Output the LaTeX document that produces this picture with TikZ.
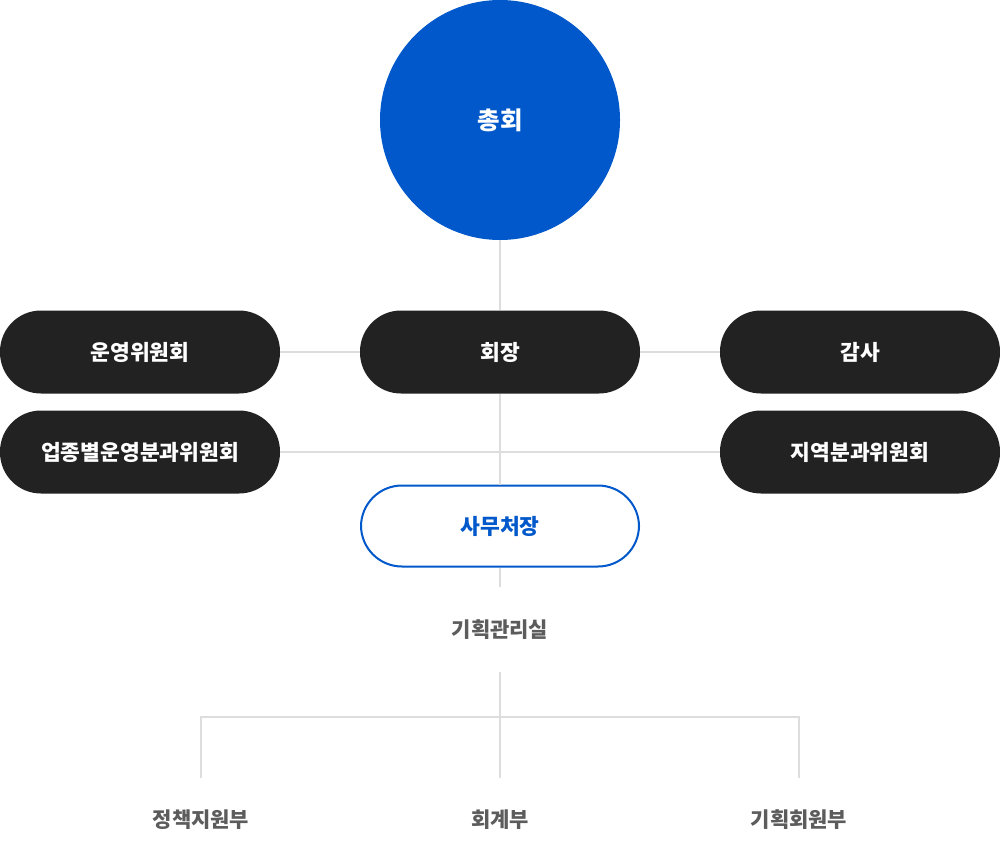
\documentclass[tikz,border=0pt]{standalone}
\usepackage{fontspec}
\newfontfamily\kr{Noto Sans CJK KR}
\definecolor{orgblue}{HTML}{0058CA}
\definecolor{orgdark}{HTML}{222222}
\definecolor{orgline}{HTML}{DDDDDD}
\definecolor{orggray}{HTML}{5C5C5C}
\tikzset{
rootcircle/.style={circle, fill=orgblue, minimum size=240pt, inner sep=0pt,
  text=white, font=\kr\bfseries\fontsize{24.5}{25}\selectfont},
darkpill/.style={rectangle, rounded corners=41pt, fill=orgdark, minimum width=280pt,
  minimum height=83pt, inner sep=0pt, text=white, font=\kr\bfseries\fontsize{21.5}{22}\selectfont},
linepill/.style={rectangle, rounded corners=41pt, draw=orgblue, line width=2pt, fill=white,
  minimum width=278pt, minimum height=81pt, inner sep=0pt, text=orgblue,
  font=\kr\bfseries\fontsize{21.5}{22}\selectfont},
sublabel/.style={inner sep=0pt, text=orggray, font=\kr\bfseries\fontsize{21}{22}\selectfont},
orgedge/.style={draw=orgline, line width=2pt}
}

\begin{document}
\begin{tikzpicture}[x=1pt, y=-1pt]
\useasboundingbox (0,0) rectangle (1000,862);
\node[rootcircle] (chonghoe) at (500,120) {총회};
\node[darkpill] (hoejang) at (500,352) {회장};
\node[darkpill] (unyeong) at (140,352) {운영위원회};
\node[darkpill] (gamsa) at (860,352) {감사};
\node[darkpill] (upjong) at (140,452) {업종별운영분과위원회};
\node[darkpill] (jiyeok) at (860,452) {지역분과위원회};
\node[linepill] (samucheo) at (500,526) {사무처장};
\node[sublabel] (gihoek) at (500,630) {기획관리실};
\node[sublabel] (jeongchaek) at (201,820) {정책지원부};
\node[sublabel] (hoegye) at (500,820) {회계부};
\node[sublabel] (gihoekhoewon) at (799,820) {기획회원부};
\coordinate (samuend) at (500,587);
\coordinate (gihoekend) at (500,672);
\coordinate (jeongtop) at (201,778);
\coordinate (hoegyetop) at (500,778);
\coordinate (gihoektop) at (799,778);
\draw[orgedge] (chonghoe.south) -- (hoejang.north);
\draw[orgedge] (unyeong.east) -- (hoejang.west);
\draw[orgedge] (hoejang.east) -- (gamsa.west);
\draw[orgedge] (upjong.east) -- (jiyeok.west);
\draw[orgedge] (hoejang.south) -- (samucheo.north);
\draw[orgedge] (samucheo.south) -- (samuend);
\draw[orgedge] (gihoekend) -- (hoegyetop);
\draw[orgedge] (jeongtop) -- ++(0,-61) -| (gihoektop);
\end{tikzpicture}
\end{document}
